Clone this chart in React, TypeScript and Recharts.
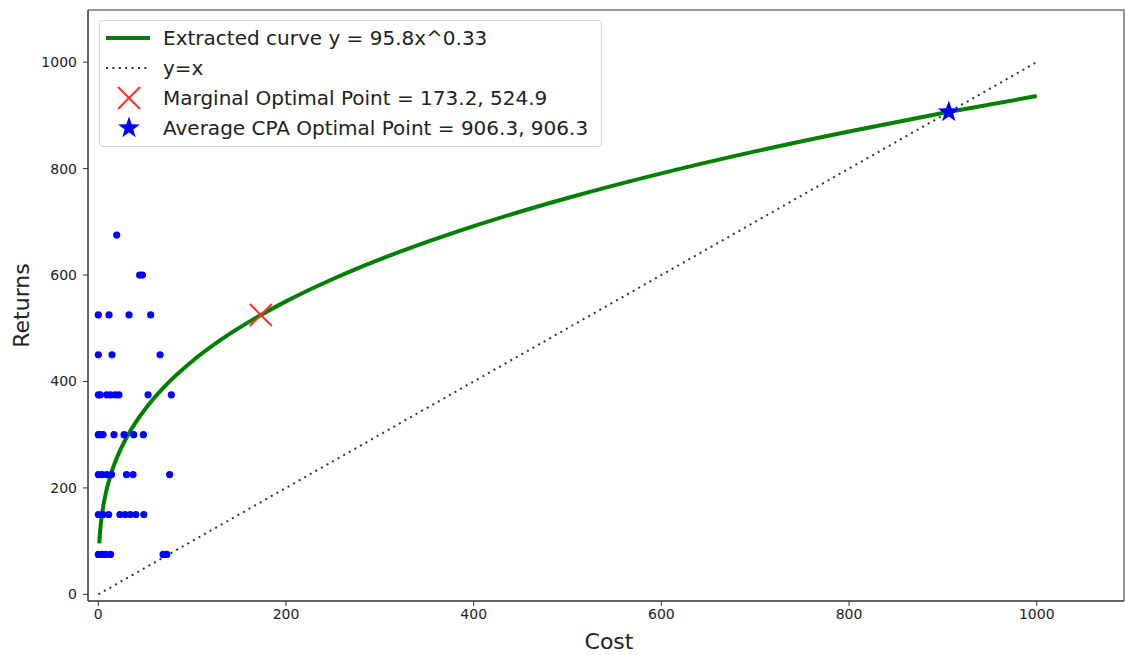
import React from 'react';
import { ComposedChart, Line, Scatter, XAxis, YAxis, Legend, ReferenceArea } from 'recharts';

// Observed data points (cost, returns)
const scatterCost = [
  19.6,
  44, 47,
  0, 11.4, 32.7, 55.8,
  0, 14.6, 65.8,
  0, 2, 9, 13, 18, 22, 53, 77.8,
  0, 2, 5, 16.7, 27.4, 37.7, 48,
  0, 4, 9, 14, 30, 37, 76,
  0, 5, 11, 23, 28.5, 34, 40, 48.5,
  0, 4, 8, 13, 69, 73,
];
const scatterReturns = [
  675,
  600, 600,
  525, 525, 525, 525,
  450, 450, 450,
  375, 375, 375, 375, 375, 375, 375, 375,
  300, 300, 300, 300, 300, 300, 300,
  225, 225, 225, 225, 225, 225, 225,
  150, 150, 150, 150, 150, 150, 150, 150,
  75, 75, 75, 75, 75, 75,
];

// Extracted curve
const curveCost = [1, 2, 3, 5, 7, 10, 15, 20, 30, 40, 50, 70, 100, 130, 173.2, 200, 250, 300, 400, 500, 600, 700, 800, 900, 1000];
const curveReturns = [95.8, 120.4, 137.7, 162.9, 182.1, 204.8, 234.2, 257.5, 294.3, 323.6, 348.3, 389.3, 437.9, 477.5, 524.9, 550.5, 592.5, 629.3, 691.9, 744.7, 791.0, 832.3, 869.7, 904.3, 936.3];

const identityCost = [0, 1000];
const identityReturns = [0, 1000];

const marginalCost = [173.2];
const marginalReturns = [524.9];
const averageCost = [906.3];
const averageReturns = [906.3];

const xTicks = [0, 200, 400, 600, 800, 1000];
const yTicks = [0, 200, 400, 600, 800, 1000];
const xDomain = [-11, 1093];
const yDomain = [-12.5, 1098];

const legendLabels = [
  'Extracted curve y = 95.8x^0.33',
  'y=x',
  'Marginal Optimal Point = 173.2, 524.9',
  'Average CPA Optimal Point = 906.3, 906.3',
];

const toXY = (xs: number[], ys: number[]) => xs.map((x, i) => ({ x, y: ys[i] }));

const scatterData = toXY(scatterCost, scatterReturns);
const curveData = toXY(curveCost, curveReturns);
const identityData = toXY(identityCost, identityReturns);
const marginalData = toXY(marginalCost, marginalReturns);
const averageData = toXY(averageCost, averageReturns);

const FONT = '"DejaVu Sans", sans-serif';

const starPoints = (cx: number, cy: number, R: number, r: number) => {
  const pts: string[] = [];
  for (let i = 0; i < 10; i++) {
    const a = (-90 + i * 36) * Math.PI / 180;
    const rad = i % 2 === 0 ? R : r;
    pts.push(`${cx + rad * Math.cos(a)},${cy + rad * Math.sin(a)}`);
  }
  return pts.join(' ');
};

const Dot = (props: any) => <circle cx={props.cx} cy={props.cy} r={3.6} fill="#0000ff" />;
const CrossMark = (props: any) => {
  const { cx, cy } = props;
  const s = 11;
  return (
    <g>
      <line x1={cx - s} y1={cy - s} x2={cx + s} y2={cy + s} stroke="#ff2a2a" strokeWidth={2} />
      <line x1={cx - s} y1={cy + s} x2={cx + s} y2={cy - s} stroke="#ff2a2a" strokeWidth={2} />
    </g>
  );
};
const StarMark = (props: any) => (
  <polygon points={starPoints(props.cx, props.cy, 11.5, 4.6)} fill="#0000ff" />
);

const legendIcons = [
  <svg width={50} height={24}><line x1={6} y1={12} x2={50} y2={12} stroke="#008000" strokeWidth={4} /></svg>,
  <svg width={50} height={24}><line x1={6} y1={12} x2={50} y2={12} stroke="#333" strokeWidth={2} strokeDasharray="2 4.4" /></svg>,
  <svg width={50} height={24}><CrossMark cx={29} cy={12} /></svg>,
  <svg width={50} height={24}><StarMark cx={29} cy={12} /></svg>,
];

const LegendBox = () => (
  <div
    style={{
      boxSizing: 'border-box',
      width: 503,
      height: 127,
      border: '1px solid #d4d4d4',
      borderRadius: 4,
      background: 'rgba(255,255,255,0.85)',
      paddingTop: 2,
      fontFamily: FONT,
      fontSize: 20,
      color: '#222',
    }}
  >
    {legendLabels.map((label, i) => (
      <div key={label} style={{ display: 'flex', alignItems: 'center', height: 30 }}>
        <div style={{ width: 58, height: 24, display: 'flex' }}>{legendIcons[i]}</div>
        <span style={{ whiteSpace: 'nowrap', marginLeft: 5 }}>{label}</span>
      </div>
    ))}
  </div>
);

export default function App() {
  return (
    <div style={{ position: 'absolute', left: 0, top: 0, width: 1125, height: 655, background: '#fff' }}>
      <ComposedChart
        width={1125}
        height={655}
        margin={{ top: 10, right: 1, bottom: 0, left: 0 }}
        style={{ fontFamily: FONT }}
      >
        <XAxis
          dataKey="x"
          type="number"
          domain={xDomain}
          allowDataOverflow
          ticks={xTicks}
          height={54}
          tickSize={5}
          tickMargin={3}
          stroke="#333"
          tick={{ fill: '#222', fontSize: 14 }}
          label={{
            content: (p: any) => {
              const vb = p.viewBox;
              return (
                <text x={vb.x + vb.width / 2 + 3} y={649} textAnchor="middle" fontSize={22} fill="#222" fontFamily={FONT}>
                  Cost
                </text>
              );
            },
          }}
        />
        <YAxis
          dataKey="y"
          type="number"
          domain={yDomain}
          allowDataOverflow
          ticks={yTicks}
          width={88}
          tickSize={5}
          tickMargin={6}
          stroke="#333"
          tick={{ fill: '#222', fontSize: 14 }}
          label={{
            content: (p: any) => {
              const vb = p.viewBox;
              const cy = vb.y + vb.height / 2;
              return (
                <text x={21} y={cy} transform={`rotate(-90, 21, ${cy})`} textAnchor="middle" dominantBaseline="central" fontSize={22} fill="#222" fontFamily={FONT}>
                  Returns
                </text>
              );
            },
          }}
        />
        <ReferenceArea
          x1={xDomain[0]}
          x2={xDomain[1]}
          y1={yDomain[0]}
          y2={yDomain[1]}
          ifOverflow="visible"
          fill="none"
          fillOpacity={0}
          stroke="#333"
          strokeWidth={1}
        />
        <Legend
          layout="horizontal"
          verticalAlign="middle"
          align="center"
          wrapperStyle={{ left: 99, top: 20, width: 503, height: 127 }}
          content={() => <LegendBox />}
        />
        <Scatter data={scatterData} dataKey="y" shape={Dot} isAnimationActive={false} />
        <Line data={curveData} dataKey="y" type="monotone" stroke="#008000" strokeWidth={4} dot={false} activeDot={false} isAnimationActive={false} />
        <Line data={identityData} dataKey="y" type="linear" stroke="#333" strokeWidth={2} strokeDasharray="2 4.4" dot={false} activeDot={false} isAnimationActive={false} />
        <Scatter data={marginalData} dataKey="y" shape={CrossMark} isAnimationActive={false} />
        <Scatter data={averageData} dataKey="y" shape={StarMark} isAnimationActive={false} />
      </ComposedChart>
    </div>
  );
}
